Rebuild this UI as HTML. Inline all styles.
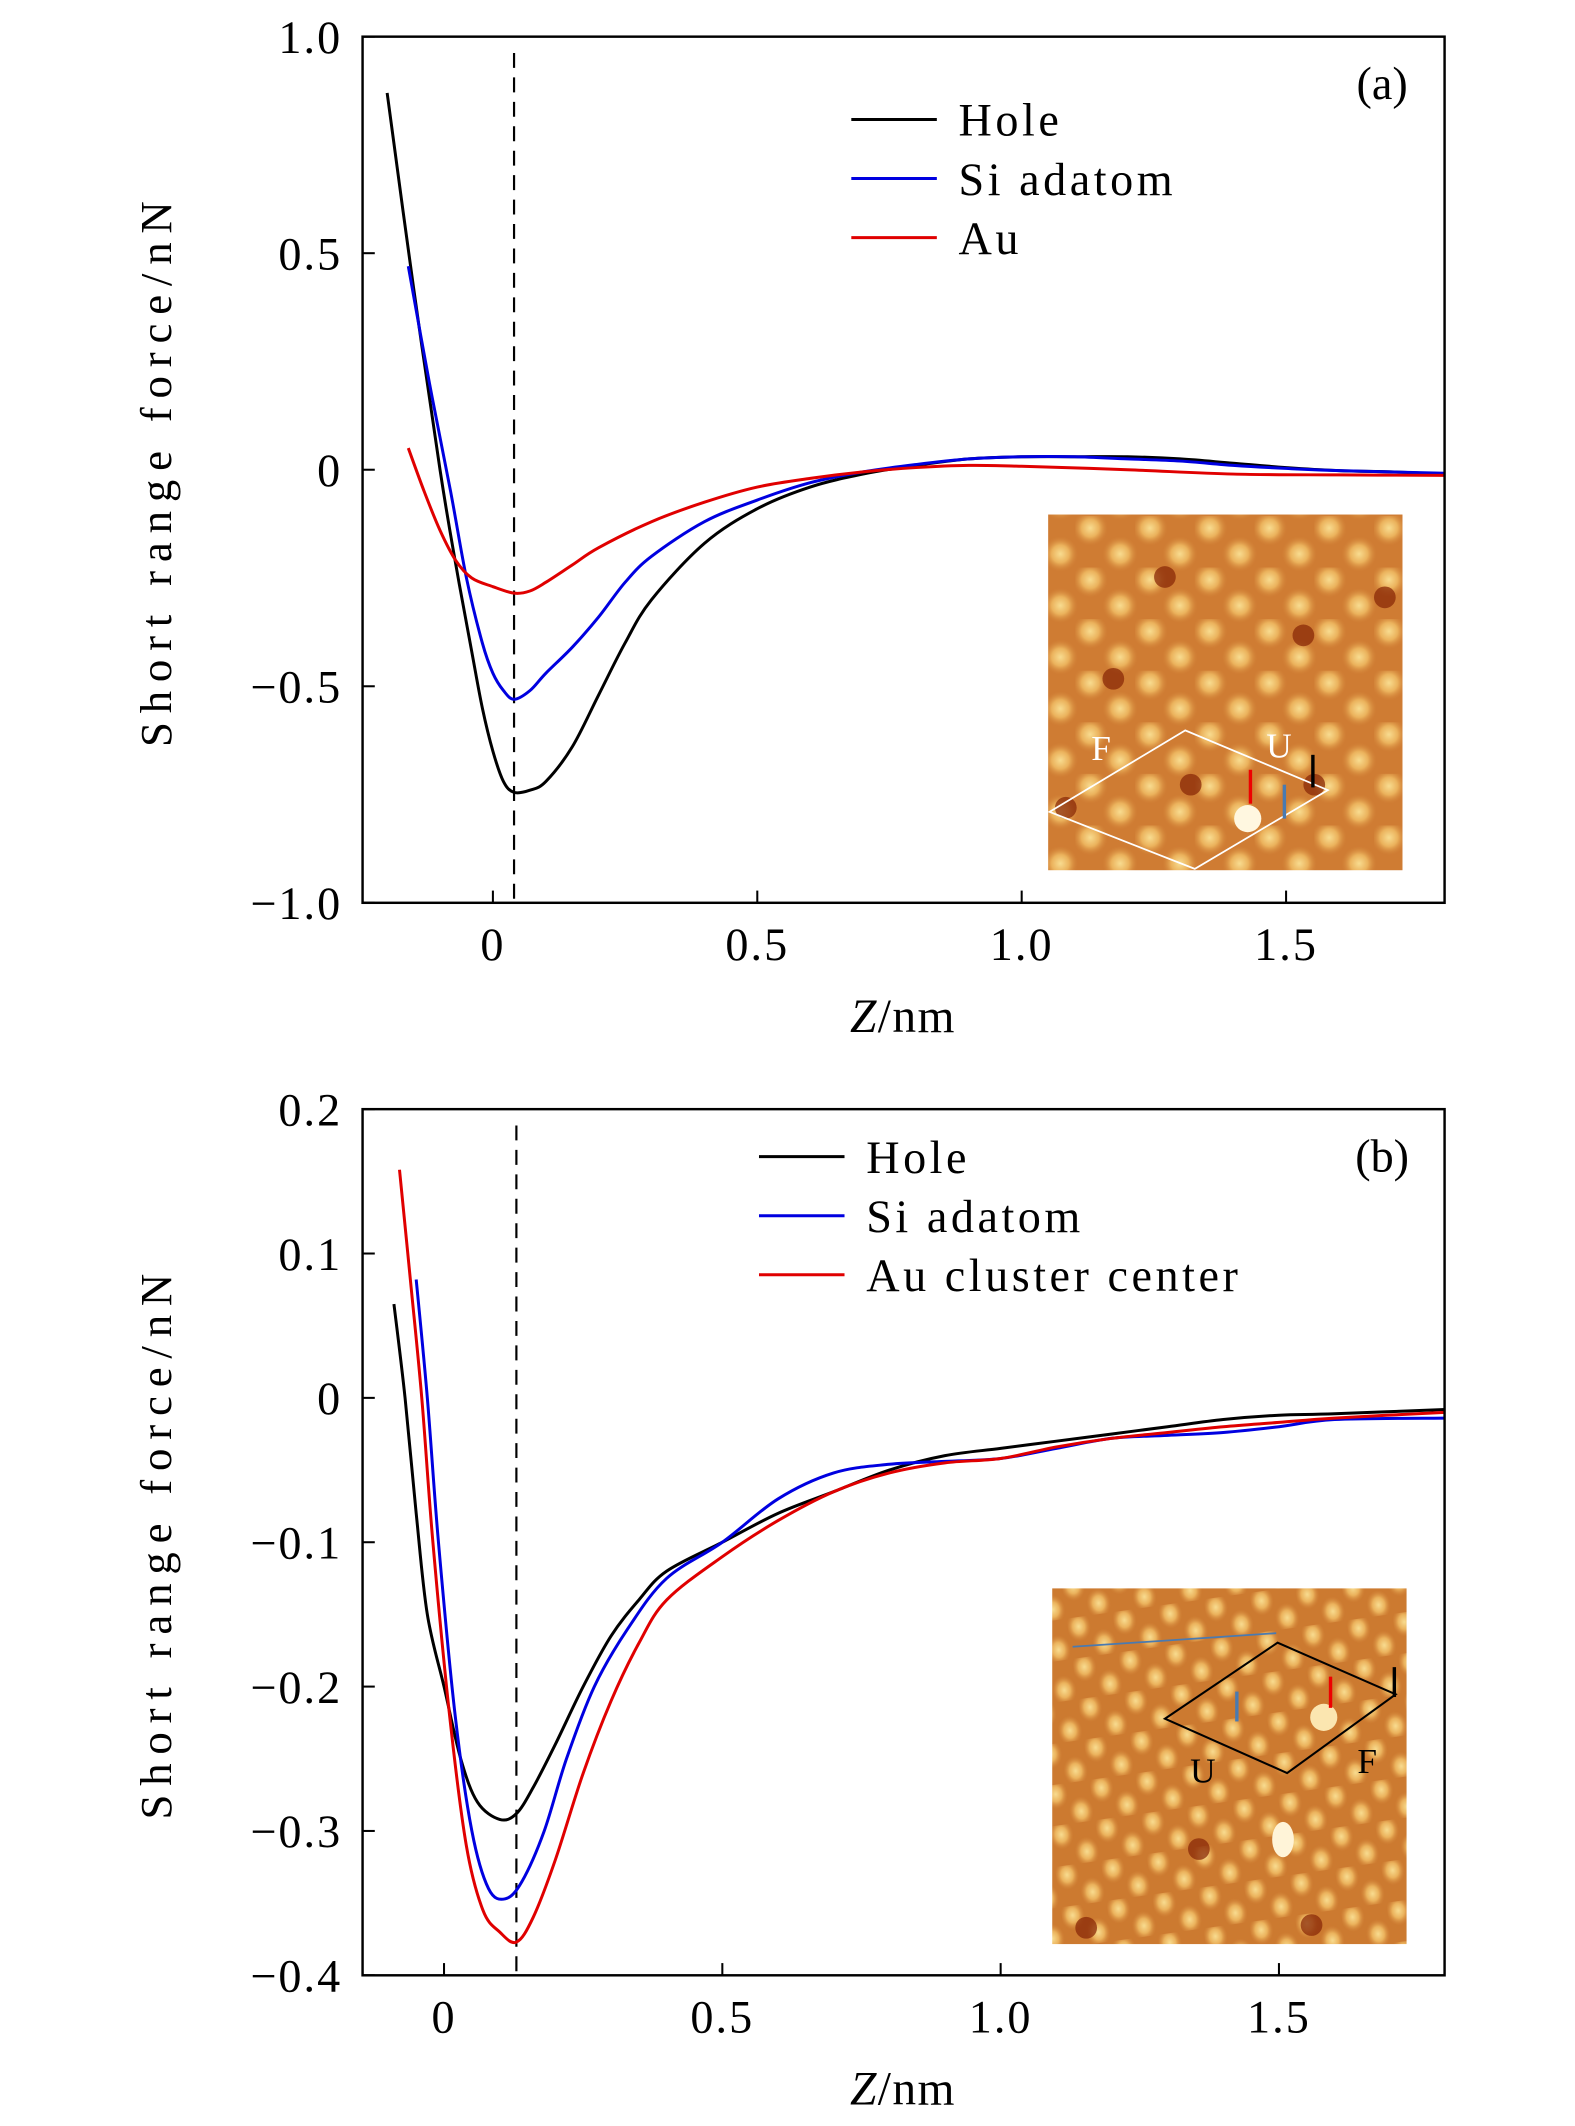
<!DOCTYPE html>
<html><head><meta charset="utf-8"><style>
html,body{margin:0;padding:0;background:#fff;}
svg{display:block;}
text{font-family:"Liberation Serif",serif;fill:#000;}
</style></head><body>
<svg id="fig" width="1575" height="2126" viewBox="0 0 1160 1566" xmlns="http://www.w3.org/2000/svg">
<defs>
<radialGradient id="blob" cx="50%" cy="50%" r="50%">
<stop offset="0%" stop-color="#f8dc90"/><stop offset="50%" stop-color="#ebb25c"/><stop offset="100%" stop-color="#d4863a" stop-opacity="0"/>
</radialGradient>
<pattern id="atoms" width="44" height="38" patternUnits="userSpaceOnUse">
<rect width="44" height="38" fill="#cf7c33"/>
<circle cx="11" cy="9" r="13" fill="url(#blob)"/>
<circle cx="33" cy="28" r="13" fill="url(#blob)"/>
<circle cx="33" cy="-10" r="13" fill="url(#blob)"/>
<circle cx="-11" cy="28" r="13" fill="url(#blob)"/>
</pattern>
<pattern id="atoms2" width="34" height="30" patternUnits="userSpaceOnUse" patternTransform="rotate(-8)">
<rect width="34" height="30" fill="#cc7a30"/>
<ellipse cx="8" cy="7" rx="9" ry="11" fill="url(#blob)"/>
<ellipse cx="25" cy="22" rx="9" ry="11" fill="url(#blob)"/>
</pattern>
</defs>
<g id="panelA"></g>
<g id="panelB"></g>
</svg>
<script>
// Panel (a) data
const aHoleZ = [-0.2,-0.15,-0.1,-0.07,-0.04,-0.02,0,0.02,0.04,0.07,0.1,0.15,0.2,0.25,0.3,0.4,0.5,0.6,0.7,0.8,0.9,1.0,1.1,1.2,1.3,1.4,1.5,1.6,1.7,1.8];
const aHoleF = [0.87,0.42,0.0,-0.22,-0.42,-0.55,-0.65,-0.72,-0.745,-0.74,-0.72,-0.64,-0.52,-0.4,-0.3,-0.17,-0.09,-0.04,-0.01,0.01,0.025,0.03,0.03,0.03,0.025,0.015,0.005,-0.002,-0.005,-0.01];
const aSiZ = [-0.16,-0.12,-0.08,-0.05,-0.02,0,0.02,0.04,0.07,0.1,0.15,0.2,0.25,0.3,0.4,0.5,0.6,0.7,0.8,0.9,1.0,1.1,1.2,1.3,1.4,1.5,1.6,1.8];
const aSiF = [0.47,0.2,-0.05,-0.25,-0.4,-0.47,-0.51,-0.53,-0.51,-0.47,-0.41,-0.34,-0.26,-0.2,-0.12,-0.07,-0.03,-0.005,0.012,0.025,0.03,0.03,0.025,0.02,0.01,0.003,-0.002,-0.008];
const aAuZ = [-0.16,-0.13,-0.1,-0.07,-0.04,0,0.04,0.07,0.1,0.15,0.2,0.3,0.4,0.5,0.6,0.7,0.8,0.9,1.0,1.2,1.4,1.6,1.8];
const aAuF = [0.05,-0.05,-0.14,-0.21,-0.25,-0.27,-0.285,-0.28,-0.26,-0.22,-0.18,-0.12,-0.075,-0.04,-0.02,-0.005,0.005,0.01,0.008,0.0,-0.01,-0.012,-0.013];
const aYTicks = [1.0,0.5,0,-0.5,-1.0];
const aYLabels = ["1.0","0.5","0","\u22120.5","\u22121.0"];
const aXTicks = [0,0.5,1.0,1.5];
const aXLabels = ["0","0.5","1.0","1.5"];
const aLegend = ["Hole","Si adatom","Au"];
// Panel (b) data
const bHoleZ = [-0.09,-0.07,-0.05,-0.03,0,0.03,0.06,0.1,0.13,0.16,0.2,0.25,0.3,0.35,0.4,0.5,0.6,0.7,0.8,0.9,1.0,1.1,1.2,1.3,1.4,1.5,1.6,1.8];
const bHoleF = [0.065,0.0,-0.08,-0.15,-0.2,-0.25,-0.28,-0.292,-0.288,-0.27,-0.24,-0.2,-0.165,-0.14,-0.12,-0.1,-0.08,-0.065,-0.05,-0.04,-0.035,-0.03,-0.025,-0.02,-0.015,-0.012,-0.011,-0.008];
const bSiZ = [-0.05,-0.03,-0.01,0.02,0.05,0.08,0.11,0.14,0.18,0.22,0.27,0.33,0.4,0.5,0.6,0.7,0.8,0.9,1.0,1.1,1.2,1.3,1.4,1.5,1.6,1.8];
const bSiF = [0.082,0.0,-0.1,-0.22,-0.3,-0.34,-0.347,-0.335,-0.3,-0.25,-0.2,-0.16,-0.125,-0.1,-0.07,-0.052,-0.046,-0.044,-0.042,-0.035,-0.028,-0.026,-0.024,-0.02,-0.015,-0.014];
const bAuZ = [-0.08,-0.06,-0.04,-0.02,0.01,0.04,0.07,0.1,0.13,0.16,0.2,0.25,0.3,0.35,0.4,0.5,0.6,0.7,0.8,0.9,1.0,1.1,1.2,1.3,1.4,1.5,1.6,1.8];
const bAuF = [0.158,0.08,0.0,-0.1,-0.22,-0.31,-0.355,-0.37,-0.377,-0.36,-0.32,-0.26,-0.21,-0.17,-0.14,-0.11,-0.085,-0.065,-0.052,-0.045,-0.042,-0.034,-0.028,-0.024,-0.02,-0.017,-0.014,-0.01];
const bYTicks = [0.2,0.1,0,-0.1,-0.2,-0.3,-0.4];
const bYLabels = ["0.2","0.1","0","\u22120.1","\u22120.2","\u22120.3","\u22120.4"];
const bXTicks = [0,0.5,1.0,1.5];
const bXLabels = ["0","0.5","1.0","1.5"];
const bLegend = ["Hole","Si adatom","Au cluster center"];

const NS="http://www.w3.org/2000/svg";
function mk(tag,attrs,parent){const e=document.createElementNS(NS,tag);for(const k in attrs)e.setAttribute(k,attrs[k]);parent.appendChild(e);return e;}
function smooth(pts){let d="M"+pts[0][0].toFixed(2)+","+pts[0][1].toFixed(2);
 for(let i=0;i<pts.length-1;i++){const p0=pts[Math.max(0,i-1)],p1=pts[i],p2=pts[i+1],p3=pts[Math.min(pts.length-1,i+2)];
 const c1=[p1[0]+(p2[0]-p0[0])/6,p1[1]+(p2[1]-p0[1])/6],c2=[p2[0]-(p3[0]-p1[0])/6,p2[1]-(p3[1]-p1[1])/6];
 d+=" C"+c1[0].toFixed(2)+","+c1[1].toFixed(2)+" "+c2[0].toFixed(2)+","+c2[1].toFixed(2)+" "+p2[0].toFixed(2)+","+p2[1].toFixed(2);}
 return d;}

function panel(g,cfg){
 const L=267,R=1064,T=cfg.top,B=cfg.top+638;
 const sx=z=>cfg.x0px+(z)*cfg.pxPerNm;
 const sy=f=>T+(cfg.ymax-f)/(cfg.ymax-cfg.ymin)*(B-T);
 const clip="clip"+cfg.id;
 const cp=mk("clipPath",{id:clip},g);mk("rect",{x:L,y:T,width:R-L,height:B-T},cp);
 const ins=mk("g",{},g);
 
 
 mk("rect",{x:cfg.ix,y:cfg.iy,width:261,height:262,fill:cfg.pat},ins);
 cfg.insetExtra(ins);
 const dl=mk("line",{x1:sx(cfg.dash),x2:sx(cfg.dash),y1:T+12,y2:B,stroke:"#000","stroke-width":1.6,"stroke-dasharray":"11,7"},g);
 
 
 const cols=["#000","#0000e0","#e00000"];
 cfg.series.forEach((s,i)=>{
  const pts=s[0].map((z,j)=>[sx(z),sy(s[1][j])]);
  const p=mk("path",{d:smooth(pts),fill:"none",stroke:cols[i],"stroke-width":2.2,"clip-path":"url(#"+clip+")"},g);
  
  
 });
 const fr=mk("rect",{x:L,y:T,width:R-L,height:B-T,fill:"none",stroke:"#000","stroke-width":1.8},g);
 
 
 cfg.yTicks.forEach((v,i)=>{const y=sy(v);
  mk("line",{x1:L,x2:L+9,y1:y,y2:y,stroke:"#000","stroke-width":1.5},g);
  const t=mk("text",{x:252,y:y+12,"text-anchor":"end","font-size":34,"letter-spacing":"1.5"},g);t.textContent=cfg.yLabels[i];
  
  });
 cfg.xTicks.forEach((v,i)=>{const x=sx(v);
  mk("line",{x1:x,x2:x,y1:B,y2:B-9,stroke:"#000","stroke-width":1.5},g);
  const t=mk("text",{x:x,y:B+42,"text-anchor":"middle","font-size":34,"letter-spacing":"1.5"},g);t.textContent=cfg.xLabels[i];
  
  });
 const xl=mk("text",{x:665,y:B+95,"text-anchor":"middle","font-size":35,"letter-spacing":"1"},g);
 xl.innerHTML='<tspan font-style="italic">Z</tspan>/nm';
 
 
 const yl=mk("text",{x:0,y:0,"text-anchor":"middle","font-size":33,"letter-spacing":"6.5",transform:"translate(126,"+((T+B)/2)+") rotate(-90)"},g);
 yl.textContent="Short range force/nN";
 
 
 const pl=mk("text",{x:1018,y:T+46,"text-anchor":"middle","font-size":34},g);pl.textContent=cfg.label;
 
 
 cfg.legend.forEach((n,i)=>{const y=cfg.ly+i*43.5;
  const lg=mk("g",{},g);
  
  
  mk("line",{x1:cfg.lx,x2:cfg.lx+63,y1:y,y2:y,stroke:cols[i],"stroke-width":2.2},lg);
  const t=mk("text",{x:cfg.lx+79,y:y+12,"font-size":34,"letter-spacing":"2.6"},lg);t.textContent=n;});
}

panel(document.getElementById("panelA"),{id:"a",top:27,x0px:363,pxPerNm:389.5,ymax:1.0,ymin:-1.0,dash:0.04,
 series:[[aHoleZ,aHoleF],[aSiZ,aSiF],[aAuZ,aAuF]],names:["hole-curve","si-adatom-curve","au-curve"],
 yTicks:aYTicks,yLabels:aYLabels,xTicks:aXTicks,xLabels:aXLabels,legend:aLegend,lx:627,ly:88,label:"(a)",
 ix:772,iy:379,pat:"url(#atoms)",
 insetExtra:function(g){
  [[858,425],[820,500],[1020,440],[960,468],[877,578],[785,595],[968,578]].forEach(p=>mk("circle",{cx:p[0],cy:p[1],r:8,fill:"#8a2a08",opacity:0.75},g));
  mk("circle",{cx:919,cy:603,r:10,fill:"#fff7e0"},g);
  mk("polygon",{points:"773,598 873,538 978,582 880,640",fill:"none",stroke:"#fff","stroke-width":1.3},g);
  const f=mk("text",{x:811,y:560,"text-anchor":"middle","font-size":26,style:"fill:#fff"},g);f.textContent="F";
  const u=mk("text",{x:942,y:558,"text-anchor":"middle","font-size":26,style:"fill:#fff"},g);u.textContent="U";
  mk("line",{x1:921,x2:921,y1:567,y2:592,stroke:"#e00","stroke-width":2.5},g);
  mk("line",{x1:946,x2:946,y1:603,y2:578,stroke:"#4a7ab0","stroke-width":2.5},g);
  mk("line",{x1:967,x2:967,y1:556,y2:580,stroke:"#000","stroke-width":2.5},g);
 }});

panel(document.getElementById("panelB"),{id:"b",top:817,x0px:327,pxPerNm:410,ymax:0.2,ymin:-0.4,dash:0.13,
 series:[[bHoleZ,bHoleF],[bSiZ,bSiF],[bAuZ,bAuF]],names:["hole-curve","si-adatom-curve","au-cluster-curve"],
 yTicks:bYTicks,yLabels:bYLabels,xTicks:bXTicks,xLabels:bXLabels,legend:bLegend,lx:559,ly:852,label:"(b)",
 ix:775,iy:1170,pat:"url(#atoms2)",
 insetExtra:function(g){
  [[883,1362],[966,1418],[800,1420]].forEach(p=>mk("circle",{cx:p[0],cy:p[1],r:8,fill:"#8a2a08",opacity:0.75},g));
  mk("ellipse",{cx:945,cy:1355,rx:8,ry:13,fill:"#fff4d8"},g);
  mk("ellipse",{cx:975,cy:1265,rx:10,ry:10,fill:"#fbe6b0"},g);
  mk("line",{x1:790,y1:1213,x2:940,y2:1203,stroke:"#4a7ab0","stroke-width":1.3},g);
  mk("polygon",{points:"858,1266 941,1210 1028,1248 948,1306",fill:"none",stroke:"#000","stroke-width":1.5},g);
  const u=mk("text",{x:886,y:1313,"text-anchor":"middle","font-size":26},g);u.textContent="U";
  const f=mk("text",{x:1007,y:1306,"text-anchor":"middle","font-size":26},g);f.textContent="F";
  mk("line",{x1:980,x2:980,y1:1235,y2:1258,stroke:"#e00","stroke-width":2.5},g);
  mk("line",{x1:911,x2:911,y1:1268,y2:1246,stroke:"#4a7ab0","stroke-width":2.5},g);
  mk("line",{x1:1027,x2:1027,y1:1228,y2:1250,stroke:"#000","stroke-width":2.5},g);
 }});
</script>
</body></html>
